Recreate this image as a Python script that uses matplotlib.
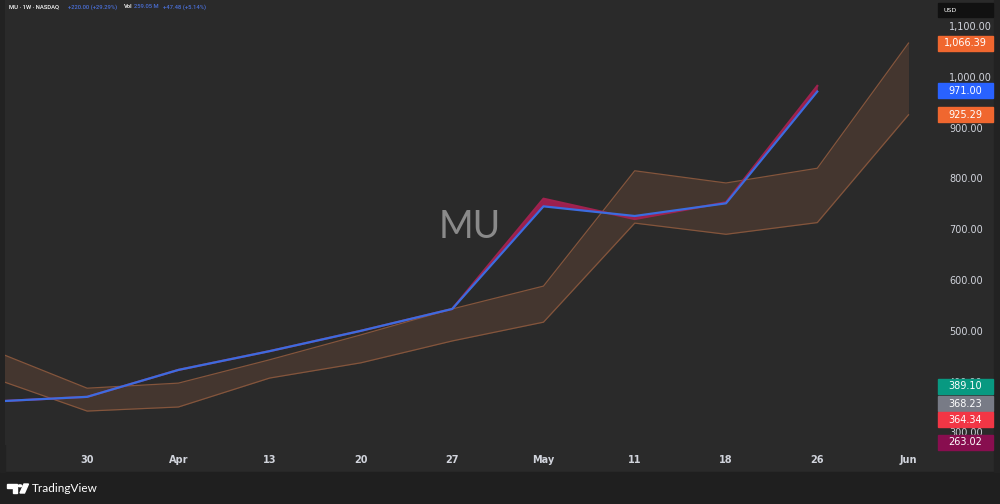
import matplotlib
matplotlib.use("Agg")
from matplotlib import pyplot as plt
from matplotlib.patches import Rectangle, Polygon, Circle

# weekly bars, first one (Mar 23) sits just left of the visible area
weeks = ["23", "30", "Apr", "13", "20", "27", "May", "11", "18", "26", "Jun"]
price = [361, 370, 423, 460, 500, 543, 745, 726, 751, 971.00]
price_alt = [361, 370, 423, 460, 500, 543, 760, 720, 753, 982]
band_upper = [459, 387, 397, 443, 492, 543, 588, 815, 791, 820, 1066.39]
band_lower = [405, 342, 350, 407, 437, 480, 517, 712, 690, 713, 925.29]

yticks = [300, 400, 500, 600, 700, 800, 900, 1000, 1100]

# right scale badges: value, face colour, nudge (px) used by the stacking
badges = [
    (1066.39, "#f0672f", 0),
    (971.00, "#2962ff", -1),
    (925.29, "#f0672f", 0),
    (389.10, "#089981", -1),
    (368.23, "#787b86", 6),
    (364.34, "#f23645", 20),
    (263.02, "#880e4f", -9),
]

BG = "#2a2a2a"
FOOT = "#1f1f1f"
TXT = "#d1d4dc"
W, H = 1000, 504

fig = plt.figure(figsize=(W / 100, H / 100), dpi=100, facecolor=BG)

ax = fig.add_axes([5 / W, (H - 445) / H, 930 / W, 445 / H])
ax.set_facecolor(BG)
for s in ax.spines.values():
    s.set_visible(False)

x = list(range(len(weeks)))
ax.fill_between(x, band_lower, band_upper, color="#44362f", lw=0, zorder=1)
ax.plot(x, band_upper, color="#84553c", lw=0.9, zorder=2)
ax.plot(x, band_lower, color="#84553c", lw=0.9, zorder=2)

xp = x[: len(price)]
ax.fill_between(xp, price, price_alt, color="#9c1f4f", lw=0, zorder=3)
ax.plot(xp, price_alt, color="#a0224e", lw=1.6, zorder=3)
ax.plot(xp, price, color="#3b6ce0", lw=1.6, zorder=4)

ax.set_xlim(0.10, 10.29)
ax.set_ylim(275.2, 1151.2)

ax.set_xticks(x[1:])
ax.set_xticklabels(weeks[1:])
ax.set_yticks(yticks)
ax.set_yticklabels([f"{v:,.2f}" for v in yticks])
ax.yaxis.tick_right()
ax.tick_params(axis="both", length=0, colors=TXT, labelsize=7)
ax.tick_params(axis="y", pad=10)
ax.tick_params(axis="x", pad=7)
for lab in ax.get_xticklabels():
    lab.set_fontweight("bold")

# watermark
ax.text(0.5, 0.49, "MU", transform=ax.transAxes, ha="center", va="center",
        fontsize=27, color="#8a8a8a", family="Lato", zorder=0)

# borders + footer
fig.patches.append(Rectangle((0, 0), 1, (H - 472) / H, transform=fig.transFigure,
                             color=FOOT, zorder=-1))
fig.patches.append(Rectangle((0, (H - 472) / H), 5 / W, 472 / H,
                             transform=fig.transFigure, color="#222222", zorder=-1))
fig.patches.append(Rectangle((994 / W, (H - 472) / H), 6 / W, 472 / H,
                             transform=fig.transFigure, color="#222222", zorder=-1))

def fy(py):
    return (H - py) / H

# USD box
fig.patches.append(Rectangle((938 / W, fy(17)), 55 / W, 14 / H,
                             transform=fig.transFigure, color="#111111", zorder=4))
fig.text(943 / W, fy(10), "USD", color="white", fontsize=4.5, va="center", zorder=5)

# price badges
fig.canvas.draw()
for val, col, nudge in badges:
    py = H - ax.transData.transform((0, val))[1] + nudge
    fig.patches.append(Rectangle((938 / W, fy(py + 7.5)), 55 / W, 15 / H,
                                 transform=fig.transFigure, color=col, zorder=4))
    fig.text(965.5 / W, fy(py), f"{val:,.2f}", color="white", fontsize=7,
             ha="center", va="center", zorder=5)

# legend header
hdr = [
    (9, "MU · 1W · NASDAQ", "white"),
    (68, "+220.00 (+29.29%)", "#4a6fd6"),
    (124, "Vol", "white"),
    (134, "259.05 M", "#4a6fd6"),
    (163, "+47.48 (+5.14%)", "#4a6fd6"),
]
for px, t, c in hdr:
    fig.text(px / W, fy(7), t, color=c, fontsize=4.2, va="center", family="Roboto",
             fontweight="medium")

# TradingView logo
fig.patches.append(Polygon([(7 / W, fy(484)), (17 / W, fy(484)), (17 / W, fy(493)),
                            (13 / W, fy(493)), (13 / W, fy(487.5)), (7 / W, fy(487.5))],
                           transform=fig.transFigure, color="white", zorder=5))
fig.patches.append(Circle((20 / W, fy(485.8)), 1.8 / W, transform=fig.transFigure,
                          color="white", zorder=5))
fig.patches.append(Polygon([(24 / W, fy(484)), (28.5 / W, fy(484)), (24.5 / W, fy(493)),
                            (20 / W, fy(493))],
                           transform=fig.transFigure, color="white", zorder=5))
fig.text(32 / W, fy(488), "TradingView", color="white", fontsize=8.5, va="center",
         family="Lato")

plt.savefig("out.png", dpi=100, facecolor=BG)
